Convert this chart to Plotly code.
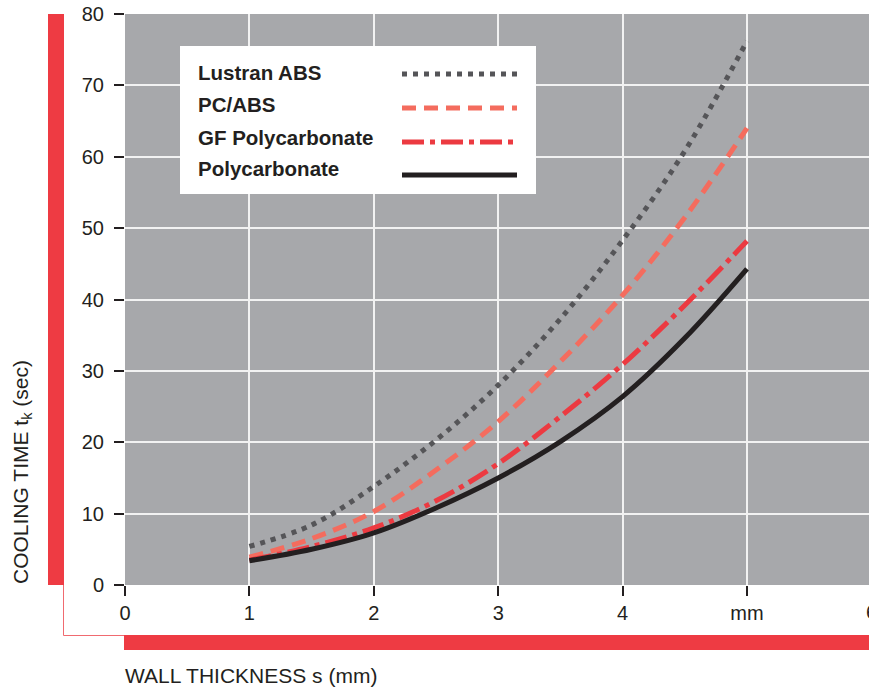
import plotly.graph_objects as go

# ---- data ----
wall_thickness = [1.0, 1.5, 2.0, 2.5, 3.0, 3.5, 4.0, 4.5, 5.0]
lustran_abs = [5.4, 8.4, 13.8, 20.3, 28.0, 37.3, 48.3, 60.8, 76.2]
pc_abs = [3.9, 6.5, 10.3, 16.1, 22.9, 31.3, 40.6, 51.5, 64.0]
gf_polycarbonate = [3.5, 5.4, 8.0, 11.8, 17.0, 23.6, 30.9, 39.2, 48.2]
polycarbonate = [3.4, 5.0, 7.3, 10.8, 15.0, 20.1, 26.4, 34.6, 44.3]

series_names = ["Lustran ABS", "PC/ABS", "GF Polycarbonate", "Polycarbonate"]
x_tickvals = [0, 1, 2, 3, 4, 5]
x_ticktext = ["0", "1", "2", "3", "4", "mm"]
edge_tick_label = "6"
y_tickvals = [0, 10, 20, 30, 40, 50, 60, 70, 80]

# ---- layout geometry (page pixels) ----
W, H = 869, 689
PLOT_L, PLOT_R, PLOT_T, PLOT_B = 125, 869, 14, 585
ML, MR, MT = PLOT_L, W - PLOT_R, PLOT_T
MB = H - PLOT_B
PW, PH = W - ML - MR, H - MT - MB
UNIT_X = 124.4
RED = "#ee3b43"
BG = "#a7a8ab"
styles = [
    dict(color="#555558", dash="5px,6px"),
    dict(color="#f46c5e", dash="14px,8px"),
    dict(color="#ec3a41", dash="22px,6px,5px,6px"),
    dict(color="#231f20", dash="solid"),
]
series = [lustran_abs, pc_abs, gf_polycarbonate, polycarbonate]


def px(xp):
    return (xp - ML) / PW


def py(yp):
    return (H - MB - yp) / PH


fig = go.Figure()
for name, vals, st in zip(series_names, series, styles):
    fig.add_trace(go.Scatter(
        x=wall_thickness, y=vals, mode="lines", name=name,
        line=dict(color=st["color"], dash=st["dash"], width=5,
                  shape="spline", smoothing=1.0),
        showlegend=False,
    ))

shapes = []
# left red bar
shapes.append(dict(type="rect", xref="paper", yref="paper",
                   x0=px(48), x1=px(64), y0=py(585), y1=py(14),
                   fillcolor=RED, line=dict(width=0), layer="above"))
# thin bracket line
shapes.append(dict(type="path", xref="paper", yref="paper",
                   path=f"M {px(63.5)},{py(585)} L {px(63.5)},{py(635.5)} L {px(125)},{py(635.5)}",
                   line=dict(color="#f06a70", width=1)))
# bottom red bar
shapes.append(dict(type="rect", xref="paper", yref="paper",
                   x0=px(124), x1=px(875), y0=py(650), y1=py(635),
                   fillcolor=RED, line=dict(width=0)))
# legend box
shapes.append(dict(type="rect", xref="paper", yref="paper",
                   x0=px(180), x1=px(536), y0=py(194), y1=py(46),
                   fillcolor="white", line=dict(width=0), layer="above"))
legend_line_y = [74, 108, 142, 175]
legend_text_y = [72, 104.5, 137.5, 168]
annotations = []
for name, st, ly, ty in zip(series_names, styles, legend_line_y, legend_text_y):
    shapes.append(dict(type="line", xref="paper", yref="paper",
                       x0=px(402), x1=px(517), y0=py(ly), y1=py(ly),
                       line=dict(color=st["color"], dash=st["dash"], width=5),
                       layer="above"))
    annotations.append(dict(xref="paper", yref="paper", x=px(196), y=py(ty),
                            xanchor="left", yanchor="middle", showarrow=False,
                            text=f"<b>{name}</b>",
                            font=dict(size=20.5, color="#231f20")))

# axis titles
annotations.append(dict(xref="paper", yref="paper", x=px(123), y=py(675),
                        xanchor="left", yanchor="middle", showarrow=False,
                        text="WALL THICKNESS s (mm)",
                        font=dict(size=21, color="#231f20")))
annotations.append(dict(xref="paper", yref="paper", x=px(22), y=py(472),
                        xanchor="center", yanchor="middle", showarrow=False,
                        textangle=-90,
                        text="COOLING TIME t<sub>k</sub> (sec)",
                        font=dict(size=21, color="#231f20")))
# partially visible tick label at the right edge (x = 6 lies just past the edge)
annotations.append(dict(xref="paper", yref="paper", x=px(PLOT_L + 6 * UNIT_X), y=py(612),
                        xanchor="center", yanchor="middle", showarrow=False,
                        text=edge_tick_label, font=dict(size=20, color="#231f20")))

fig.update_layout(
    width=W, height=H,
    margin=dict(l=ML, r=MR, t=MT, b=MB, pad=0),
    paper_bgcolor="white", plot_bgcolor=BG,
    font=dict(family="Liberation Sans, Arial, sans-serif", color="#231f20"),
    shapes=shapes, annotations=annotations,
    xaxis=dict(range=[0, PW / UNIT_X], tickvals=x_tickvals, ticktext=x_ticktext,
               showgrid=True, gridcolor="#f2f2f2", gridwidth=1.5, zeroline=False,
               ticks="outside", ticklen=10, tickwidth=1.5, tickcolor="#231f20",
               tickfont=dict(size=20), showline=False, ticklabelstandoff=0,
               ticklabeloverflow="allow"),
    yaxis=dict(range=[0, 80], tickvals=y_tickvals,
               showgrid=True, gridcolor="#f2f2f2", gridwidth=1.5, zeroline=False,
               ticks="outside", ticklen=10, tickwidth=1.5, tickcolor="#231f20",
               tickfont=dict(size=20), showline=False, ticklabelstandoff=6,
               ticklabeloverflow="allow"),
)

fig.write_html(
    "out.html",
    config=dict(displayModeBar=False),
    post_script=(
        "document.body.style.margin='0';"
        "document.body.style.overflow='hidden';"
        "document.documentElement.style.overflow='hidden';"
    ),
)
